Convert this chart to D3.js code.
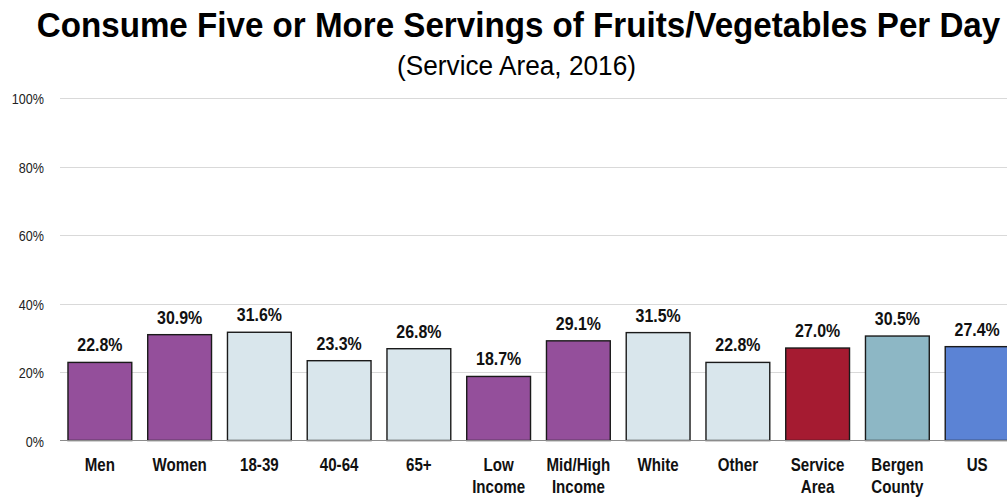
<!DOCTYPE html>
<html>
<head>
<meta charset="utf-8">
<script src="https://cdn.jsdelivr.net/npm/d3@7"></script>
<style>
  html, body { margin: 0; padding: 0; background: #fff; }
  svg { display: block; }
  text { font-family: "Liberation Sans", Arial, sans-serif; }
</style>
</head>
<body>
<svg id="chart" width="1007" height="497"></svg>
<script>
const categories = [["Men"], ["Women"], ["18-39"], ["40-64"], ["65+"], ["Low", "Income"], ["Mid/High", "Income"], ["White"], ["Other"], ["Service", "Area"], ["Bergen", "County"], ["US"]];
const values = [22.8, 30.9, 31.6, 23.3, 26.8, 18.7, 29.1, 31.5, 22.8, 27.0, 30.5, 27.4];
const barColors = ["#944f9b", "#944f9b", "#d9e6ec", "#d9e6ec", "#d9e6ec", "#944f9b", "#944f9b", "#d9e6ec", "#d9e6ec", "#a51b31", "#8db7c5", "#5b83d5"];
const yTicks = [0, 20, 40, 60, 80, 100];

const svg = d3.select("#chart");
const margin = { left: 60, right: -10, top: 98, bottom: 56 };
const W = 1007, H = 497;
const NARROW = 0.84; // horizontal squeeze for a condensed look

const x = d3.scaleBand()
  .domain(d3.range(categories.length))
  .range([margin.left, W - margin.right])
  .paddingInner(0.2)
  .paddingOuter(0.1);

const y = d3.scaleLinear()
  .domain([0, 100])
  .range([H - margin.bottom - 0.5, margin.top]);

// Centered text squeezed horizontally to a target width
function fitText(cx, cy, size, weight, width, str) {
  const t = svg.append("text")
    .attr("text-anchor", "middle")
    .style("font-weight", weight)
    .style("font-size", size + "px")
    .attr("fill", "#000")
    .text(str);
  const natural = t.node().getComputedTextLength();
  t.attr("transform", `translate(${cx},${cy}) scale(${width / natural},1)`);
  return t;
}

// Title and subtitle
fitText(518.5, 37, 35, "bold", 964, "Consume Five or More Servings of Fruits/Vegetables Per Day");
fitText(516.5, 75, 28, "normal", 239, "(Service Area, 2016)");

// Gridlines
svg.append("g")
  .selectAll("line")
  .data(yTicks.filter(d => d > 0))
  .join("line")
  .attr("x1", margin.left).attr("x2", W)
  .attr("y1", d => Math.round(y(d)) + 0.5).attr("y2", d => Math.round(y(d)) + 0.5)
  .attr("stroke", "#d9d9d9").attr("stroke-width", 1);

// Y axis labels
svg.append("g")
  .selectAll("text")
  .data(yTicks)
  .join("text")
  .attr("transform", d => `translate(44,${y(d) + 6}) scale(${NARROW},1)`)
  .attr("text-anchor", "end")
  .style("font-size", "15px")
  .attr("fill", "#222")
  .text(d => d + "%");

// Bars
svg.append("g")
  .selectAll("rect")
  .data(values)
  .join("rect")
  .attr("x", (d, i) => x(i))
  .attr("y", d => y(d))
  .attr("width", x.bandwidth())
  .attr("height", d => y(0) - y(d))
  .attr("fill", (d, i) => barColors[i])
  .attr("stroke", "#1a1a1a")
  .attr("stroke-width", 1.4);

// Baseline
svg.append("line")
  .attr("x1", margin.left).attr("x2", W)
  .attr("y1", y(0)).attr("y2", y(0))
  .attr("stroke", "#8c8c8c").attr("stroke-width", 1);

// Value labels
svg.append("g")
  .selectAll("text")
  .data(values)
  .join("text")
  .attr("transform", (d, i) => `translate(${x(i) + x.bandwidth() / 2},${y(d) - 11}) scale(${NARROW},1)`)
  .attr("text-anchor", "middle")
  .style("font-weight", "bold")
  .style("font-size", "19px")
  .attr("fill", "#111")
  .text(d => d.toFixed(1) + "%");

// Category labels
const cat = svg.append("g")
  .selectAll("text")
  .data(categories)
  .join("text")
  .attr("transform", (d, i) => `translate(${x(i) + x.bandwidth() / 2},471) scale(${NARROW},1)`)
  .attr("text-anchor", "middle")
  .style("font-weight", "bold")
  .style("font-size", "18px")
  .attr("fill", "#111");
cat.selectAll("tspan")
  .data(d => d)
  .join("tspan")
  .attr("x", 0)
  .attr("dy", (d, i) => i === 0 ? 0 : 22)
  .text(d => d);
</script>
</body>
</html>
